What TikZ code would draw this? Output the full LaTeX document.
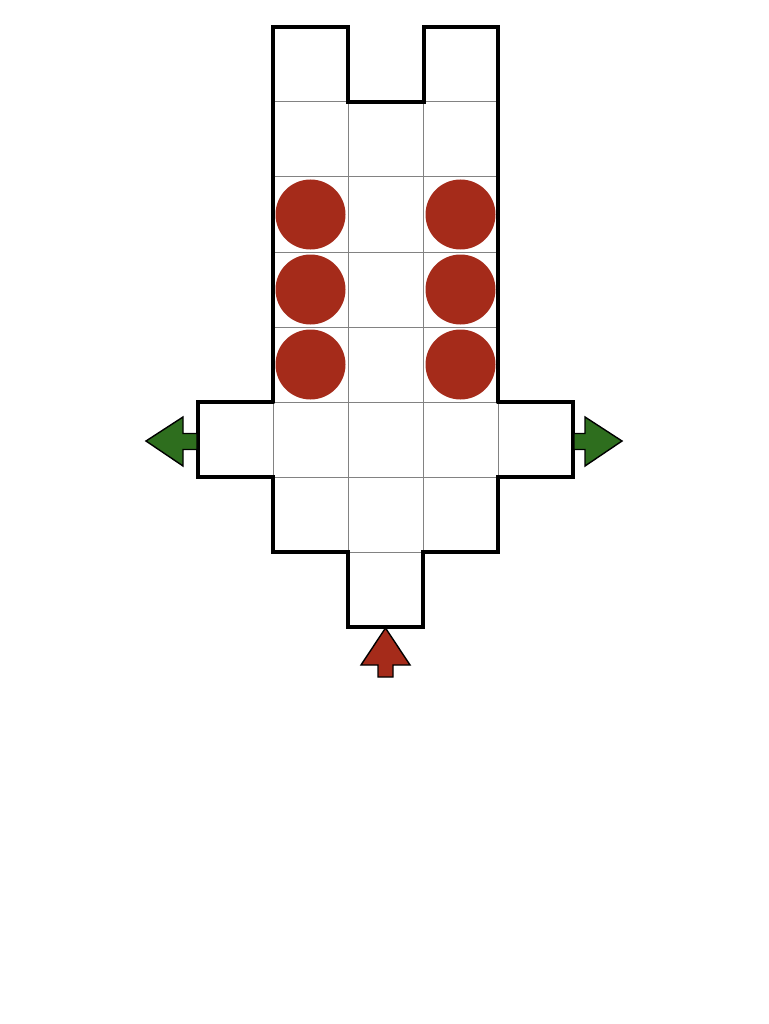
\documentclass[tikz,border=0pt]{standalone}
\usetikzlibrary{positioning}
\definecolor{disc}{RGB}{165,43,26}
\definecolor{exitgreen}{RGB}{46,110,30}
\definecolor{gridgray}{RGB}{130,130,130}
\tikzset{
  cellbox/.style={draw=gridgray, line width=1pt, minimum size=75pt, inner sep=0pt, outer sep=0pt, anchor=center},
  wall/.style={line width=3.8pt, line cap=round},
  piece/.style={circle, fill=disc, minimum size=70pt, inner sep=0pt},
  greenarrow/.style={fill=exitgreen, draw=black, line width=1.4pt, line join=miter},
  redarrow/.style={fill=disc, draw=black, line width=1.4pt, line join=miter}
}
\begin{document}
\begin{tikzpicture}[x=1pt,y=-1pt]
\useasboundingbox (0,0) rectangle (768,1024);
\fill[white] (0,0) rectangle (768,1024);
% cells
\node[cellbox] (t1) at (310.5,64.5) {};
\node[cellbox] (t3) at (460.5,64.5) {};
\foreach \r/\y in {1/139.5,2/214.5,3/289.5,4/364.5,5/439.5,6/514.5}{
  \node[cellbox] (c\r a) at (310.5,\y) {};
  \node[cellbox] (c\r b) at (385.5,\y) {};
  \node[cellbox] (c\r c) at (460.5,\y) {};
}
\node[cellbox] (sl) at (235.5,439.5) {};
\node[cellbox] (sr) at (535.5,439.5) {};
\node[cellbox] (bot) at (385.5,589.5) {};
% pieces
\foreach \r in {2,3,4}{
  \node[piece] (p\r a) at (c\r a) {};
  \node[piece] (p\r c) at (c\r c) {};
}
% walls
\draw[wall] (273,402) -- (273,27) -- (348,27) -- (348,102) -- (424,102) -- (424,27) -- (498,27) -- (498,402);
\draw[wall] (273,402) -- (198,402) -- (198,477) -- (273,477) -- (273,552) -- (348,552) -- (348,627) -- (423,627) -- (423,552) -- (498,552) -- (498,477) -- (573,477) -- (573,402) -- (498,402);
% exit arrows
\draw[greenarrow] (146,441) -- (183,417) -- (183,433.5) -- (197,433.5) -- (197,449.5) -- (183,449.5) -- (183,466) -- cycle;
\draw[greenarrow] (622,441) -- (585,417) -- (585,433.5) -- (574,433.5) -- (574,449.5) -- (585,449.5) -- (585,466) -- cycle;
\draw[redarrow] (385.5,628) -- (410,665) -- (393,665) -- (393,677) -- (378,677) -- (378,665) -- (361,665) -- cycle;
\end{tikzpicture}
\end{document}
